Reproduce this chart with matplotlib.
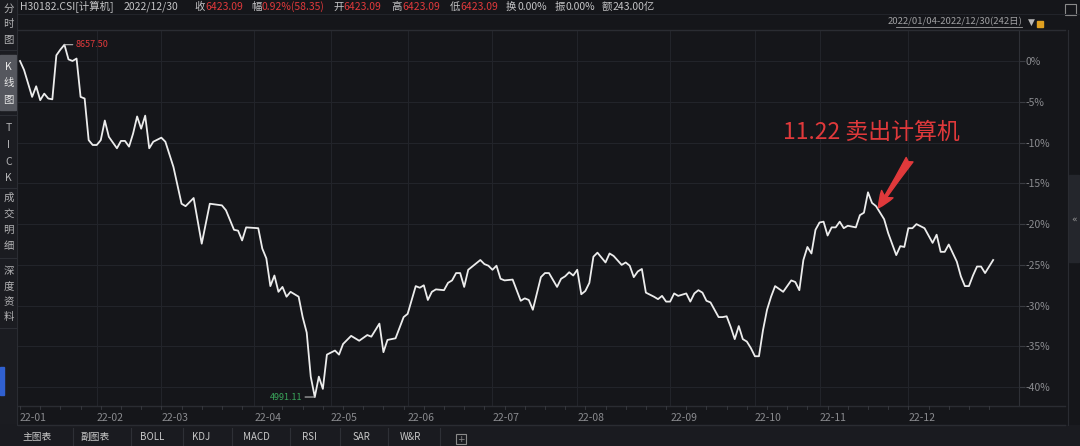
import matplotlib
matplotlib.use("Agg")
import matplotlib.pyplot as plt
from matplotlib.patches import Rectangle

plt.rcParams['font.family'] = ['Noto Sans CJK SC', 'DejaVu Sans']

# ---------------- data ----------------
days = [0, 1, 3, 4, 5, 6, 7, 8, 9, 10, 11, 12, 13, 14, 15, 16, 17, 18, 19, 20,
        21, 22, 24, 25, 26, 27, 28, 29, 30, 31, 32, 33, 35, 36, 38, 40, 41, 43, 45, 47,
        50, 51, 53, 54, 55, 56, 59, 60, 61, 62, 63, 64, 65, 66, 67, 69, 70, 71, 72, 73,
        74, 75, 76, 78, 79, 80, 82, 84, 86, 87, 89, 90, 91, 93, 95, 96, 98, 99, 100, 101,
        102, 103, 105, 106, 107, 108, 109, 110, 111, 112, 114, 115, 116, 117, 118, 119, 120, 122, 124, 125,
        126, 127, 129, 130, 131, 133, 134, 135, 136, 137, 138, 139, 140, 141, 142, 143, 144, 145, 146, 147,
        149, 150, 151, 152, 153, 154, 155, 157, 158, 159, 160, 161, 162, 163, 165, 166, 167, 168, 169, 170,
        171, 173, 174, 175, 176, 177, 178, 179, 180, 181, 182, 183, 184, 185, 186, 187, 189, 190, 191, 192,
        193, 194, 195, 196, 197, 198, 199, 200, 201, 202, 203, 204, 205, 207, 208, 209, 210, 211, 212, 214,
        215, 217, 218, 219, 220, 221, 222, 224, 226, 227, 228, 229, 230, 232, 233, 234, 235, 236, 237, 238,
        239, 240, 241]
pct = [0.0, -1.1, -4.4, -3.1, -4.8, -4.0, -4.6, -4.7, 0.7, 1.4, 2.0, 0.2, 0.0, 0.3, -4.4, -4.6, -9.7, -10.3, -10.3, -9.7,
       -7.3, -9.3, -10.7, -9.8, -9.8, -10.5, -8.9, -6.8, -8.3, -6.7, -10.7, -9.9, -9.4, -9.9, -13.0, -17.5, -17.8, -16.8, -22.4, -17.5,
       -17.7, -18.3, -20.7, -20.8, -22.0, -20.4, -20.5, -23.0, -24.2, -27.6, -26.3, -28.3, -27.7, -28.9, -28.3, -28.9, -31.4, -33.3, -38.7, -41.2,
       -38.7, -40.2, -36.0, -35.5, -36.0, -34.7, -33.7, -34.3, -33.6, -33.8, -32.2, -35.7, -34.2, -34.0, -31.4, -31.0, -27.6, -27.8, -27.5, -29.3,
       -28.3, -28.0, -28.1, -27.2, -26.9, -26.0, -26.0, -27.7, -25.6, -25.2, -24.4, -24.9, -25.1, -25.6, -25.1, -26.7, -26.9, -26.8, -29.4, -29.1,
       -29.3, -30.5, -26.5, -26.0, -26.0, -27.7, -26.7, -26.4, -25.9, -26.3, -25.6, -28.6, -28.2, -27.2, -24.0, -23.5, -24.1, -24.7, -23.6, -23.9,
       -25.0, -24.7, -25.1, -26.5, -25.8, -25.5, -28.4, -28.9, -29.2, -28.8, -29.5, -29.5, -28.5, -28.8, -28.5, -29.5, -28.5, -28.1, -28.4, -29.4,
       -29.6, -31.4, -31.4, -31.3, -32.6, -34.1, -32.5, -34.1, -34.4, -35.2, -36.2, -36.2, -33.0, -30.5, -28.9, -27.6, -28.3, -27.6, -26.9, -27.1,
       -28.1, -24.4, -22.8, -23.6, -20.7, -19.8, -19.7, -21.4, -20.4, -20.4, -19.7, -20.5, -20.2, -20.4, -18.9, -18.6, -16.1, -17.4, -17.8, -19.4,
       -21.1, -23.8, -22.7, -22.8, -20.5, -20.5, -20.0, -20.5, -22.3, -21.3, -23.4, -23.4, -22.5, -24.6, -26.4, -27.6, -27.6, -26.3, -25.2, -25.2,
       -26.0, -25.2, -24.4]

month_starts = [0, 19, 35, 58, 77, 96, 117, 138, 161, 182, 198, 220]
month_labels = ["22-01", "22-02", "22-03", "22-04", "22-05", "22-06",
                "22-07", "22-08", "22-09", "22-10", "22-11", "22-12"]
y_ticks = [0, -5, -10, -15, -20, -25, -30, -35, -40]
y_labels = ["0%", "-5%", "-10%", "-15%", "-20%", "-25%", "-30%", "-35%", "-40%"]

max_label = "8657.50"
min_label = "4991.11"
sell_day = 212
sell_text = "11.22 卖出计算机"

header_items = [("H30182.CSI[计算机]", "g"), ("2022/12/30", "g"), ("收", "g"), ("6423.09", "r"),
                ("幅", "g"), ("0.92%(58.35)", "r"), ("开", "g"), ("6423.09", "r"),
                ("高", "g"), ("6423.09", "r"), ("低", "g"), ("6423.09", "r"),
                ("换", "g"), ("0.00%", "g"), ("振", "g"), ("0.00%", "g"),
                ("额", "g"), ("243.00亿", "g")]
header_x = [20, 124, 194, 205, 251, 262, 333, 343, 391, 402, 450, 460, 506, 517, 555, 566, 602, 613]
date_range = "2022/01/04-2022/12/30(242日)"
side_groups = [["分", "时", "图"], ["K", "线", "图"], ["T", "I", "C", "K"],
               ["成", "交", "明", "细"], ["深", "度", "资", "料"]]
tabs = ["主图表", "副图表", "BOLL", "KDJ", "MACD", "RSI", "SAR", "W&R"]

# ---------------- styling ----------------
W, H = 1080, 446
BG = "#15161a"
SIDE = "#1b1c21"
GRID = "#22242a"
TXT = "#8a8b8f"
LIGHT = "#c4c4c6"
RED = "#e0393b"
GREEN = "#3aa55a"

def fx(x):
    return x / W

def fy(y):
    return 1 - y / H

fig = plt.figure(figsize=(W / 100, H / 100), dpi=100, facecolor=BG)

# main axes
L, R, T, B = 18, 1019, 30, 406
ax = fig.add_axes([fx(L), fy(B), (R - L) / W, (B - T) / H])
ax.set_facecolor(BG)
ax.plot(days, pct, color="#ececec", lw=1.3, solid_joinstyle="round", zorder=3)
ax.set_xlim(-0.5, 247.4)
ax.set_ylim(-42.3, 3.8)

for m in month_starts[1:]:
    ax.axvline(m, color=GRID, lw=0.8, zorder=1)
for v in y_ticks:
    ax.axhline(v, color=GRID, lw=0.8, zorder=1)

ax.set_xticks(month_starts)
ax.set_xticklabels(month_labels)
ax.set_yticks(y_ticks)
ax.set_yticklabels(y_labels)
ax.yaxis.tick_right()
ax.tick_params(axis="y", length=4, color="#3a3c42", colors=TXT, labelsize=7.5, pad=1)
ax.tick_params(axis="x", length=0, colors=TXT, labelsize=7.5, pad=5)
for lab in ax.get_xticklabels():
    lab.set_horizontalalignment("left")
for s in ["top", "left", "bottom"]:
    ax.spines[s].set_visible(False)
ax.spines["right"].set_color("#2e3036")

# max / min labels
imax = pct.index(max(pct))
imin = pct.index(min(pct))
ax.annotate(max_label, xy=(days[imax], pct[imax]), xytext=(8, 0), textcoords="offset points",
            color=RED, fontsize=6.5, va="center", ha="left",
            arrowprops=dict(arrowstyle="-", color="#bbbbbb", lw=0.8, shrinkA=0, shrinkB=0))
ax.annotate(min_label, xy=(days[imin], pct[imin]), xytext=(-9, 0), textcoords="offset points",
            color=GREEN, fontsize=6.5, va="center", ha="right",
            arrowprops=dict(arrowstyle="-", color="#bbbbbb", lw=0.8, shrinkA=0, shrinkB=0))

# sell annotation
ys = pct[days.index(sell_day)]
ax.annotate("", xy=(sell_day + 0.6, ys - 0.2), xytext=(sell_day + 8.3, ys + 5.7),
            arrowprops=dict(arrowstyle="fancy,head_length=0.9,head_width=0.75,tail_width=0.45",
                            color=RED, mutation_scale=13, shrinkA=0, shrinkB=0), zorder=5)
ax.text(sell_day - 1.2, ys + 9.1, sell_text, color=RED, fontsize=16.5, ha="center", va="center")

# x-axis band borders
fig.add_artist(plt.Line2D([fx(L), fx(1065)], [fy(406), fy(406)], color="#2a2c32", lw=1))
fig.add_artist(plt.Line2D([fx(L), fx(1065)], [fy(425), fy(425)], color="#2a2c32", lw=1))
for d in range(0, 242, 5):
    xp = L + (d + 0.5) * (R - L) / 247.9
    fig.add_artist(plt.Line2D([fx(xp), fx(xp)], [fy(406), fy(409)], color="#3a3c42", lw=0.6))

# header lines
fig.add_artist(plt.Line2D([fx(L), fx(1065)], [fy(30), fy(30)], color="#2a2c32", lw=1))
fig.add_artist(plt.Line2D([fx(L), fx(W)], [fy(14), fy(14)], color="#22242a", lw=0.8))

# header text
for (s, c), x in zip(header_items, header_x):
    fig.text(fx(x), fy(7), s, color=(RED if c == "r" else LIGHT), fontsize=7.5, va="center", ha="left")

fig.text(fx(1022), fy(22), date_range, color="#a0a0a2", fontsize=6.8, va="center", ha="right")
fig.add_artist(plt.Line2D([fx(896), fx(1022)], [fy(27), fy(27)], color="#a0a0a2", lw=0.6))
fig.text(fx(1031), fy(22), "▼", color="#b8b8b8", fontsize=6.5, va="center", ha="center",
         family="DejaVu Sans")
fig.add_artist(Rectangle((fx(1037), fy(27)), 6 / W, 6 / H, color="#e0a020"))
fig.add_artist(Rectangle((fx(1065), fy(15)), 11 / W, 11 / H, fill=False, ec="#8a8a8a", lw=0.8))

# left sidebar
fig.add_artist(Rectangle((0, fy(425)), 17 / W, 425 / H, color=SIDE, zorder=0))
fig.add_artist(plt.Line2D([fx(17), fx(17)], [fy(0), fy(425)], color="#2a2c32", lw=0.8))
fig.add_artist(Rectangle((0, fy(110)), 16 / W, 55 / H, color="#55575e"))
fig.add_artist(Rectangle((0, fy(395)), 4 / W, 28 / H, color="#3060d0"))
group_y = [[9, 24, 40], [67, 83, 100], [128, 145, 162, 178], [198, 214, 230, 246], [271, 287, 302, 317]]
for gi, (grp, ys_) in enumerate(zip(side_groups, group_y)):
    for ch, yy in zip(grp, ys_):
        fig.text(fx(8.5), fy(yy), ch, color=("#e8e8e8" if gi == 1 else "#b4b4b6"),
                 fontsize=7.5, ha="center", va="center")
for yy in [50, 115, 188, 258, 328]:
    fig.add_artist(plt.Line2D([0, fx(16)], [fy(yy), fy(yy)], color="#2c2e34", lw=0.8))

# right strip
fig.add_artist(plt.Line2D([fx(1068), fx(1068)], [fy(30), fy(425)], color="#2a2c32", lw=0.8))
fig.add_artist(Rectangle((fx(1069), fy(262)), 10 / W, 87 / H, color="#24262c"))
fig.text(fx(1074), fy(220), "«", color="#9a9a9a", fontsize=6.5, ha="center", va="center",
         family="DejaVu Sans")

# bottom tabs
fig.add_artist(Rectangle((0, 0), 1, 21 / H, color="#1a1b20", zorder=0))
tab_x = [22, 80, 140, 192, 243, 302, 353, 400]
for t, x in zip(tabs, tab_x):
    fig.text(fx(x), fy(437), t, color="#c8c8c8", fontsize=7, ha="left", va="center")
for x in [73, 131, 183, 232, 290, 340, 388, 440]:
    fig.add_artist(plt.Line2D([fx(x), fx(x)], [fy(428), 0], color="#2e3036", lw=0.8))
fig.add_artist(Rectangle((fx(456), fy(444)), 10 / W, 10 / H, fill=False, ec="#8a8a8a", lw=0.8))
fig.text(fx(461), fy(439), "+", color="#8a8a8a", fontsize=6.5, ha="center", va="center",
         family="DejaVu Sans")

fig.savefig("out.png", dpi=100, facecolor=BG)
